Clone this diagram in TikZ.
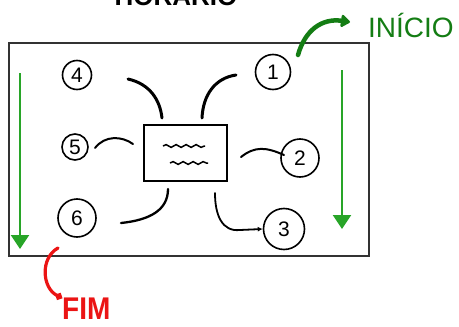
\documentclass[tikz,border=0pt]{standalone}
\usepackage{fontspec}
\setmainfont{Liberation Sans}
\usetikzlibrary{arrows.meta,decorations.pathmorphing}
\definecolor{arrgreen}{RGB}{40,165,40}
\definecolor{txtgreen}{RGB}{20,125,20}
\definecolor{hred}{RGB}{235,20,20}
\tikzset{
  numcirc/.style={circle,draw=black,line width=1.6pt,inner sep=0pt,font=\fontsize{21}{21}\selectfont},
  stroke/.style={line width=2.2pt,line cap=round,black},
  greenarrow/.style={arrgreen,line width=2.2pt,-{Triangle[width=18pt,length=14pt]}},
  wave/.style={line width=1.5pt,decorate,decoration={snake,amplitude=1.4pt,segment length=10pt}}
}
\begin{document}
\begin{tikzpicture}[x=1pt,y=-1pt]
\useasboundingbox (0,0) rectangle (459,327);
\clip (0,0) rectangle (459,327);
% title (cut off at the top edge, as in the reference)
\node[anchor=base,font=\fontsize{26}{26}\selectfont\bfseries,inner sep=0pt] (title) at (176,5) {HORÁRIO};
% frame
\node[draw=black!80,line width=1.5pt,minimum width=360pt,minimum height=213pt,inner sep=0pt] (frame) at (189,149.5) {};
% central box
\node[draw=black,line width=1.3pt,minimum width=83pt,minimum height=56pt,inner sep=0pt] (box) at (185.5,153) {};
\draw[wave] (163,146) -- (205,146);
\draw[wave] (170,163) -- (208,163);
% numbered circles
\node[numcirc,minimum size=29pt] (n4) at (77,75) {4};
\node[numcirc,minimum size=26pt] (n5) at (75,147) {5};
\node[numcirc,minimum size=38pt] (n6) at (77,218) {6};
\node[numcirc,minimum size=35pt] (n1) at (273,72) {1};
\node[numcirc,minimum size=38pt] (n2) at (300,158) {2};
\node[numcirc,minimum size=41pt] (n3) at (284,229) {3};
% connector ends
\coordinate (s4) at (128,79);
\coordinate (b4) at (162,118);
\coordinate (s1) at (236,75);
\coordinate (b1) at (202,118);
\coordinate (s5) at (95,148);
\coordinate (b5) at (133,144);
\coordinate (s2) at (284,155);
\coordinate (b2) at (241,157);
\coordinate (s6) at (121,223);
\coordinate (b6) at (168,189);
\coordinate (b3) at (215,193);
% connectors
\draw[stroke,line width=3pt] (s4) .. controls (150,84) and (160,100) .. (b4);
\draw[stroke,line width=3pt] (b1) .. controls (203,95) and (215,78) .. (s1);
\draw[stroke,line width=2pt] (s5) .. controls (105,135) and (122,136) .. (b5);
\draw[stroke,line width=2pt] (b2) .. controls (255,146) and (266,147) .. (s2);
\draw[stroke,line width=2.3pt] (s6) .. controls (150,220) and (168,210) .. (b6);
\draw[stroke,line width=1.8pt,-{Latex[length=5pt,width=5pt]}] (b3) .. controls (215,215) and (222,232) .. (240,230) -- (n3.west);
% green arrows
\coordinate (gr1) at (342,70);
\coordinate (gr2) at (342,229);
\draw[greenarrow] (gr1) -- (gr2);
\coordinate (gl1) at (20,73);
\coordinate (gl2) at (20,249);
\draw[greenarrow] (gl1) -- (gl2);
% INICIO
\node[txtgreen,anchor=west,font=\fontsize{28}{28}\selectfont,inner sep=0pt] (inicio) at (368,25) {INÍCIO};
\coordinate (ia) at (298,55);
\draw[txtgreen,line width=4.5pt,line cap=round,-{Triangle[round,width=14pt,length=10pt]}] (ia) .. controls (305,30) and (322,18) .. (350,22);
% FIM
\node[hred,anchor=west,font=\fontsize{28}{28}\selectfont\bfseries,yscale=1.12,inner sep=0pt] (fim) at (62,309) {FIM};
\coordinate (fa) at (58,248);
\draw[hred,line width=3.2pt,line cap=round,-{Circle[length=7pt]}] (fa) .. controls (40,258) and (42,288) .. (fim.north west);
\end{tikzpicture}
\end{document}
